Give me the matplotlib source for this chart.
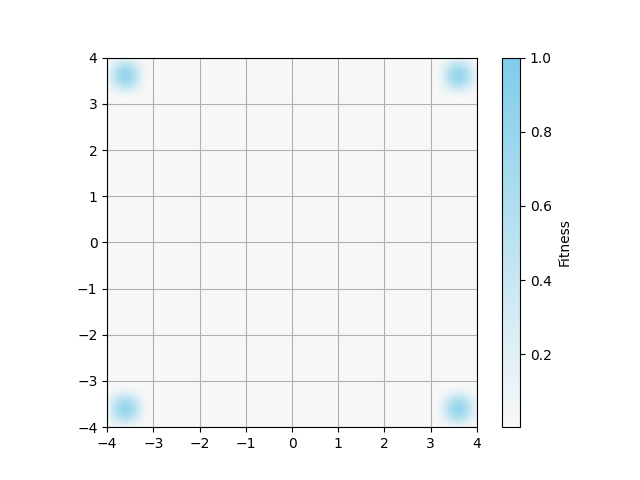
import numpy as np
import matplotlib
matplotlib.use("Agg")
import matplotlib.pyplot as plt
from matplotlib.colors import LinearSegmentedColormap

# grid of sample points (step 0.2 over [-4, 4])
xs = np.round(np.arange(-4, 4.001, 0.2), 2)
ys = np.round(np.arange(-4, 4.001, 0.2), 2)
background = 0.01

# bright corner spots: centre values and the ring around them
spot_x = [-3.6, 3.6, -3.6, 3.6]
spot_y = [3.6, 3.6, -3.6, -3.6]
spot_v = [1.0, 1.0, 1.0, 1.0]
ring_v = [0.7, 0.7, 0.7, 0.7]
corner_v = [0.4, 0.4, 0.4, 0.4]

# faint side bumps
bump_x = [-2.6, 2.6, -2.6, 2.6, -3.6, 3.6, -3.6, 3.6]
bump_y = [3.6, 3.6, -3.6, -3.6, 2.6, 2.6, -2.6, -2.6]
bump_v = [0.06, 0.06, 0.06, 0.06, 0.06, 0.06, 0.06, 0.06]

Z = np.full((len(ys), len(xs)), background)

def put(px, py, v):
    i = int(np.argmin(np.abs(ys - py)))
    j = int(np.argmin(np.abs(xs - px)))
    if 0 <= i < len(ys) and 0 <= j < len(xs):
        Z[i, j] = max(Z[i, j], v)

for px, py, pv, rv, cv in zip(spot_x, spot_y, spot_v, ring_v, corner_v):
    put(px, py, pv)
    for d in (-0.2, 0.2):
        put(px + d, py, rv)
        put(px, py + d, rv)
        put(px + d, py + d, cv)
        put(px + d, py - d, cv)
for px, py, pv in zip(bump_x, bump_y, bump_v):
    put(px, py, pv)

cmap = LinearSegmentedColormap.from_list("fit", ["#f8f8f8", "#7fcdea"])

fig, ax = plt.subplots(figsize=(6.4, 4.8), dpi=100)
im = ax.imshow(Z, origin="lower", extent=[-4.1, 4.1, -4.1, 4.1],
               cmap=cmap, vmin=0.003, vmax=1.0, interpolation="bicubic")
ax.set_xlim(-4, 4)
ax.set_ylim(-4, 4)
ax.grid(True)
cb = fig.colorbar(im, ax=ax)
cb.set_label("Fitness")
fig.savefig("out.png")
